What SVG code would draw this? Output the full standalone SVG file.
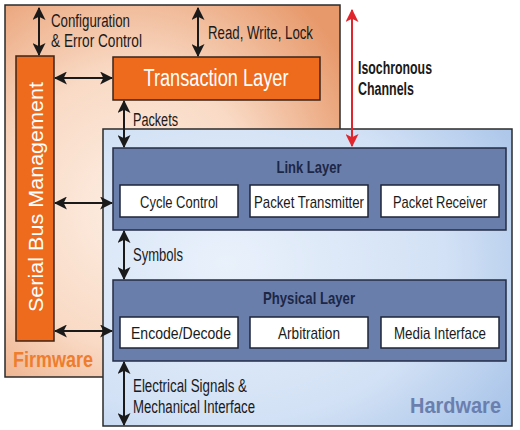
<svg xmlns="http://www.w3.org/2000/svg" width="520" height="430" viewBox="0 0 520 430">
<defs>
<style>
.lbl{font-family:"Liberation Sans Narrow","Liberation Sans",Arial,sans-serif;font-size:18px;fill:#1a1a1a}
.box-t{font-family:"Liberation Sans Narrow","Liberation Sans",Arial,sans-serif;font-size:17px;fill:#1a1a1a;text-anchor:middle}
.ttl{font-family:"Liberation Sans Narrow","Liberation Sans",Arial,sans-serif;font-size:17px;font-weight:bold;fill:#1c2746;text-anchor:middle}
.sub{fill:#ffffff;stroke:#1e2538;stroke-width:1.5}
.layer{fill:#6a7eab;stroke:#242c44;stroke-width:1.5}
.orange{fill:#ee6a1c;stroke:#3b2418;stroke-width:1.5}
.conn{stroke:#1a1a1a;stroke-width:2;fill:none;marker-start:url(#ah);marker-end:url(#ah)}
.red{stroke:#e0262c;stroke-width:2;fill:none;marker-start:url(#ahr);marker-end:url(#ahr)}
</style>
<marker id="ah" viewBox="0 0 12 12" refX="11" refY="6" markerWidth="13" markerHeight="13" markerUnits="userSpaceOnUse" orient="auto-start-reverse">
<path d="M0,0 L12,6 L0,12 L3,6 z" fill="#1a1a1a"/>
</marker>
<marker id="ahr" viewBox="0 0 12 12" refX="11" refY="6" markerWidth="13" markerHeight="13" markerUnits="userSpaceOnUse" orient="auto-start-reverse">
<path d="M0,0 L12,6 L0,12 L3,6 z" fill="#e0262c"/>
</marker>
<radialGradient id="fw" cx="0.38" cy="0.55" r="0.75">
<stop offset="0" stop-color="#fdeee3"/>
<stop offset="0.5" stop-color="#f9dac5"/>
<stop offset="1" stop-color="#e7996b"/>
</radialGradient>
<radialGradient id="hw" cx="0.3" cy="0.45" r="0.9">
<stop offset="0" stop-color="#e9f1fb"/>
<stop offset="0.6" stop-color="#d2e1f5"/>
<stop offset="1" stop-color="#a3c0e7"/>
</radialGradient>
</defs>

<g id="firmware">
<rect x="5" y="5" width="335" height="372" fill="url(#fw)" stroke="#2b2b2b" stroke-width="1.5"/>
<text x="13" y="367" font-family="'Liberation Sans Narrow','Liberation Sans',Arial,sans-serif" font-size="22" font-weight="bold" fill="#ef7d2e" textLength="80" lengthAdjust="spacingAndGlyphs">Firmware</text>
</g>

<g id="hardware">
<rect x="103" y="129" width="409" height="297" fill="url(#hw)" stroke="#2b2b2b" stroke-width="1.5"/>
<text x="501" y="413" text-anchor="end" font-family="'Liberation Sans Narrow','Liberation Sans',Arial,sans-serif" font-size="22" font-weight="bold" fill="#6b7fae" textLength="91" lengthAdjust="spacingAndGlyphs">Hardware</text>
</g>

<g id="serial-bus-management">
<rect class="orange" x="16" y="56" width="38" height="285"/>
<text transform="translate(43,197) rotate(-90)" text-anchor="middle" font-family="'Liberation Sans',Arial,sans-serif" font-size="21" fill="#ffffff" textLength="230" lengthAdjust="spacingAndGlyphs">Serial Bus Management</text>
</g>

<g id="transaction-layer">
<rect class="orange" x="113" y="57" width="207" height="43"/>
<text x="216" y="86" text-anchor="middle" font-family="'Liberation Sans Narrow','Liberation Sans',Arial,sans-serif" font-size="23" fill="#ffffff" textLength="145" lengthAdjust="spacingAndGlyphs">Transaction Layer</text>
</g>

<g id="link-layer">
<rect class="layer" x="113" y="148" width="393" height="82"/>
<text class="ttl" x="309" y="173" textLength="65" lengthAdjust="spacingAndGlyphs">Link Layer</text>
</g>
<g id="cycle-control">
<rect class="sub" x="120" y="185" width="118" height="32"/>
<text class="box-t" x="179" y="208" textLength="78" lengthAdjust="spacingAndGlyphs">Cycle Control</text>
</g>
<g id="packet-transmitter">
<rect class="sub" x="250" y="185" width="118" height="32"/>
<text class="box-t" x="309" y="208" textLength="110" lengthAdjust="spacingAndGlyphs">Packet Transmitter</text>
</g>
<g id="packet-receiver">
<rect class="sub" x="381" y="185" width="118" height="32"/>
<text class="box-t" x="440" y="208" textLength="94" lengthAdjust="spacingAndGlyphs">Packet Receiver</text>
</g>

<g id="physical-layer">
<rect class="layer" x="113" y="280" width="393" height="81"/>
<text class="ttl" x="309" y="304" textLength="92" lengthAdjust="spacingAndGlyphs">Physical Layer</text>
</g>
<g id="encode-decode">
<rect class="sub" x="120" y="317" width="118" height="31"/>
<text class="box-t" x="181" y="339" textLength="100" lengthAdjust="spacingAndGlyphs">Encode/Decode</text>
</g>
<g id="arbitration">
<rect class="sub" x="250" y="317" width="118" height="31"/>
<text class="box-t" x="309" y="339" textLength="62" lengthAdjust="spacingAndGlyphs">Arbitration</text>
</g>
<g id="media-interface">
<rect class="sub" x="381" y="317" width="118" height="31"/>
<text class="box-t" x="440" y="339" textLength="92" lengthAdjust="spacingAndGlyphs">Media Interface</text>
</g>

<g id="connectors">
<line class="conn" x1="39" y1="8" x2="39" y2="55"/>
<line class="conn" x1="198" y1="8" x2="198" y2="56"/>
<line class="conn" x1="55" y1="78" x2="112" y2="78"/>
<line class="conn" x1="124" y1="101" x2="124" y2="147"/>
<line class="conn" x1="55" y1="203" x2="112" y2="203"/>
<line class="conn" x1="124" y1="231" x2="124" y2="279"/>
<line class="conn" x1="55" y1="331" x2="112" y2="331"/>
<line class="conn" x1="124" y1="362" x2="124" y2="425"/>
<line class="red" x1="352" y1="10" x2="352" y2="146"/>
</g>

<g id="labels">
<text class="lbl" x="51" y="27" textLength="79" lengthAdjust="spacingAndGlyphs">Configuration</text>
<text class="lbl" x="51" y="47" textLength="91" lengthAdjust="spacingAndGlyphs">&amp; Error Control</text>
<text class="lbl" x="208" y="39" textLength="105" lengthAdjust="spacingAndGlyphs">Read, Write, Lock</text>
<text class="lbl" x="133" y="126" textLength="45" lengthAdjust="spacingAndGlyphs">Packets</text>
<text class="lbl" x="133" y="261" textLength="50" lengthAdjust="spacingAndGlyphs">Symbols</text>
<text class="lbl" x="133" y="392" textLength="114" lengthAdjust="spacingAndGlyphs">Electrical Signals &amp;</text>
<text class="lbl" x="133" y="413" textLength="122" lengthAdjust="spacingAndGlyphs">Mechanical Interface</text>
<text class="lbl" x="358" y="74" font-weight="bold" textLength="74" lengthAdjust="spacingAndGlyphs">Isochronous</text>
<text class="lbl" x="358" y="95" font-weight="bold" textLength="56" lengthAdjust="spacingAndGlyphs">Channels</text>
</g>
</svg>
